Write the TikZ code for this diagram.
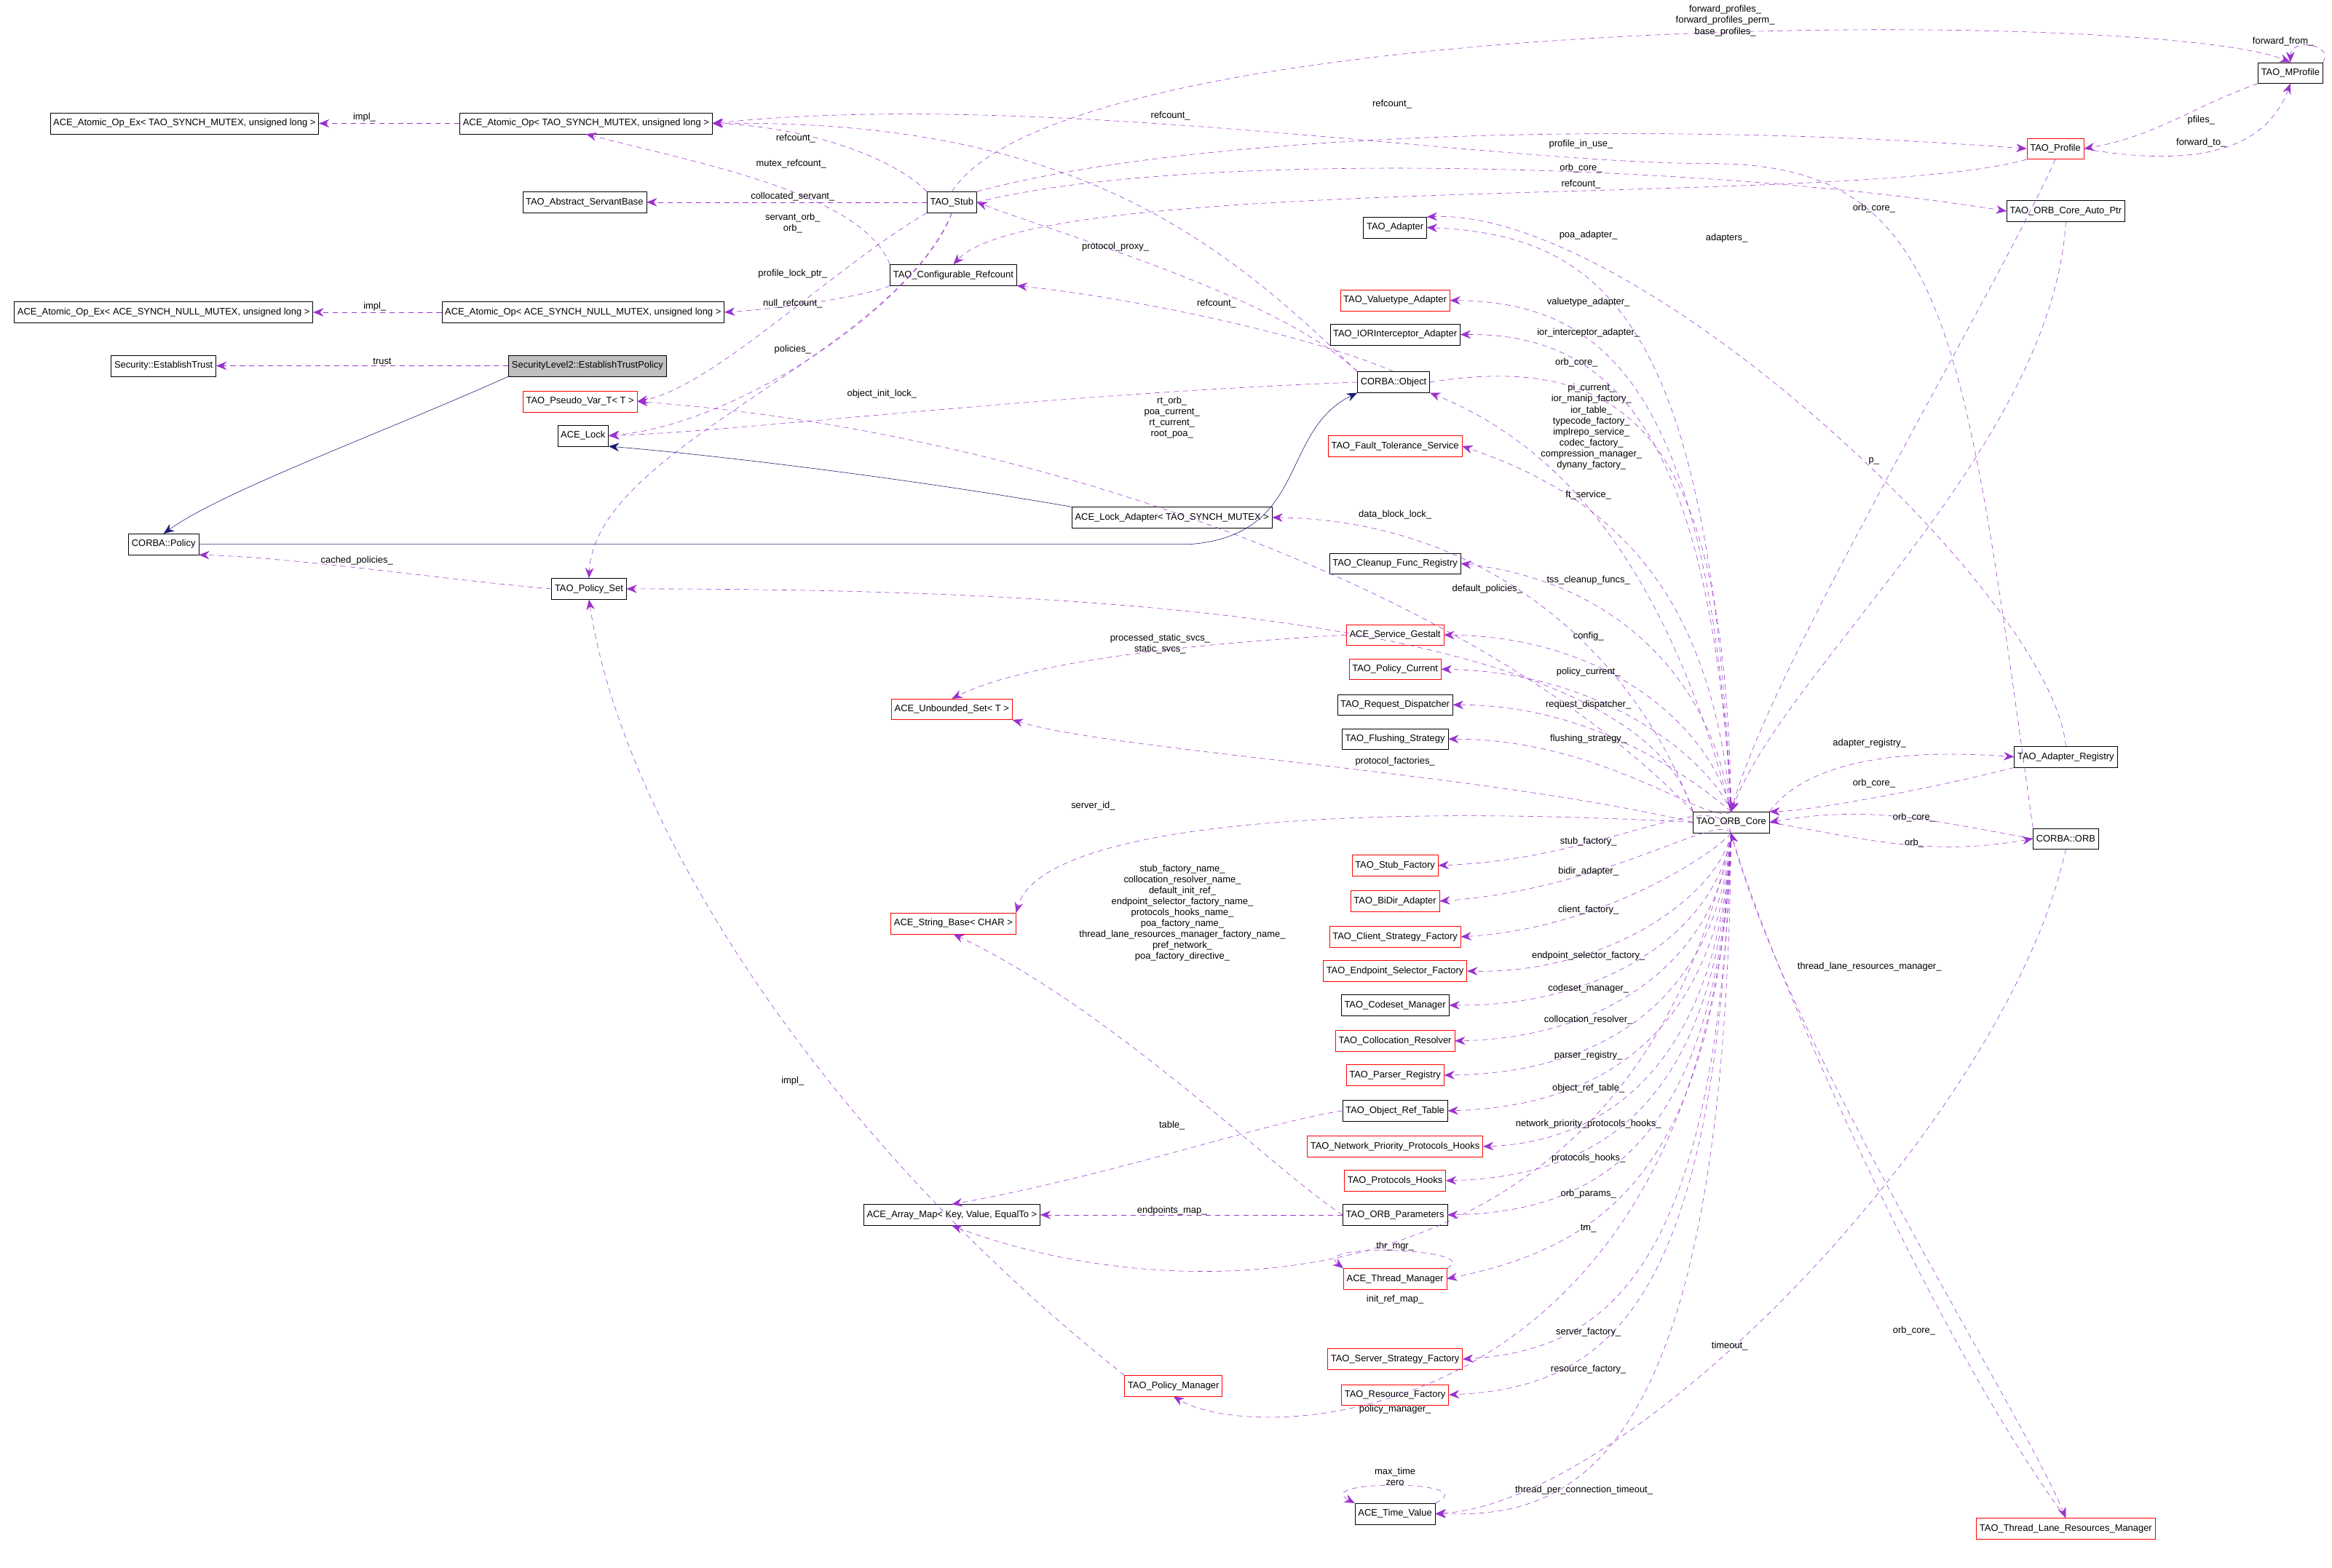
\documentclass[tikz,border=0pt]{standalone}
\usepackage{fontspec}
\setmainfont{Liberation Sans}
\usetikzlibrary{arrows.meta}
\definecolor{purp}{RGB}{154,50,205}
\definecolor{navyb}{RGB}{25,25,112}
\begin{document}
\begin{tikzpicture}[x=0.05cm,y=-0.05cm,
  every node/.style={font=\fontsize{9}{11}\selectfont},
  cls/.style={draw=black,fill=white,minimum height=0.7cm,inner xsep=3pt,inner ysep=1pt},
  rcls/.style={cls,draw=red},
  lbl/.style={inner sep=0pt,align=center,font=\fontsize{9}{10.5}\selectfont},
  use/.style={draw=purp,dash pattern=on 5pt off 4pt,-{Stealth[length=10pt,width=8pt]}},
  inh/.style={draw=navyb,-{Stealth[length=10pt,width=8pt]}}]
\useasboundingbox (0,0) rectangle (1568,1054);
% nodes
\node[cls] (aopex) at (124,83) {ACE\_Atomic\_Op\_Ex< TAO\_SYNCH\_MUTEX, unsigned long >};
\node[cls] (aop) at (394,83) {ACE\_Atomic\_Op< TAO\_SYNCH\_MUTEX, unsigned long >};
\node[cls] (absb) at (393,136) {TAO\_Abstract\_ServantBase};
\node[cls] (stub) at (640,136) {TAO\_Stub};
\node[cls] (cref) at (641,185) {TAO\_Configurable\_Refcount};
\node[cls] (aopexn) at (110,210) {ACE\_Atomic\_Op\_Ex< ACE\_SYNCH\_NULL\_MUTEX, unsigned long >};
\node[cls] (aopn) at (392,210) {ACE\_Atomic\_Op< ACE\_SYNCH\_NULL\_MUTEX, unsigned long >};
\node[cls] (etrust) at (110,246) {Security::EstablishTrust};
\node[cls,fill=black!25] (etp) at (395,246) {SecurityLevel2::EstablishTrustPolicy};
\node[rcls] (pvt) at (390,270) {TAO\_Pseudo\_Var\_T< T >};
\node[cls] (acelock) at (392,293) {ACE\_Lock};
\node[cls] (policy) at (110,366) {CORBA::Policy};
\node[cls] (pset) at (396,396) {TAO\_Policy\_Set};
\node[cls] (lad) at (788,348) {ACE\_Lock\_Adapter< TAO\_SYNCH\_MUTEX >};
\node[cls] (obj) at (937,257) {CORBA::Object};
\node[cls] (tada) at (938,153) {TAO\_Adapter};
\node[rcls] (vta) at (938,202) {TAO\_Valuetype\_Adapter};
\node[cls] (iora) at (938,225) {TAO\_IORInterceptor\_Adapter};
\node[rcls] (fts) at (938,300) {TAO\_Fault\_Tolerance\_Service};
\node[cls] (cfr) at (938,379) {TAO\_Cleanup\_Func\_Registry};
\node[rcls] (sg) at (938,427) {ACE\_Service\_Gestalt};
\node[rcls] (pc) at (938,450) {TAO\_Policy\_Current};
\node[cls] (rd) at (938,474) {TAO\_Request\_Dispatcher};
\node[cls] (fs) at (938,497) {TAO\_Flushing\_Strategy};
\node[rcls] (uset) at (640,477) {ACE\_Unbounded\_Set< T >};
\node[rcls] (strb) at (641,621) {ACE\_String\_Base< CHAR >};
\node[cls] (core) at (1164,553) {TAO\_ORB\_Core};
\node[rcls] (sf) at (938,582) {TAO\_Stub\_Factory};
\node[rcls] (bda) at (938,606) {TAO\_BiDir\_Adapter};
\node[rcls] (csf) at (938,630) {TAO\_Client\_Strategy\_Factory};
\node[rcls] (esf) at (938,653) {TAO\_Endpoint\_Selector\_Factory};
\node[cls] (cm) at (938,676) {TAO\_Codeset\_Manager};
\node[rcls] (cr) at (938,700) {TAO\_Collocation\_Resolver};
\node[rcls] (pr) at (938,723) {TAO\_Parser\_Registry};
\node[cls] (ort) at (938,747) {TAO\_Object\_Ref\_Table};
\node[rcls] (npph) at (938,771) {TAO\_Network\_Priority\_Protocols\_Hooks};
\node[rcls] (ph) at (938,794) {TAO\_Protocols\_Hooks};
\node[cls] (orbp) at (938,817) {TAO\_ORB\_Parameters};
\node[cls] (amap) at (640,817) {ACE\_Array\_Map< Key, Value, EqualTo >};
\node[rcls] (thm) at (938,860) {ACE\_Thread\_Manager};
\node[rcls] (ssf) at (938,914) {TAO\_Server\_Strategy\_Factory};
\node[rcls] (rf) at (938,938) {TAO\_Resource\_Factory};
\node[rcls] (pmgr) at (789,932) {TAO\_Policy\_Manager};
\node[cls] (tv) at (938,1018) {ACE\_Time\_Value};
\node[cls] (mprof) at (1540,49) {TAO\_MProfile};
\node[rcls] (prof) at (1382,100) {TAO\_Profile};
\node[cls] (coreap) at (1389,142) {TAO\_ORB\_Core\_Auto\_Ptr};
\node[cls] (areg) at (1389,509) {TAO\_Adapter\_Registry};
\node[cls] (orb) at (1389,564) {CORBA::ORB};
\node[rcls] (tlrm) at (1389,1028) {TAO\_Thread\_Lane\_Resources\_Manager};

% inheritance
\draw[inh] (etp.south west) .. controls (260,290) and (150,330) .. (policy.north);
\draw[inh] (lad.north west) .. controls (600,320) and (470,305) .. (acelock.south east);
\draw[inh] (policy.east) -- (800,366) .. controls (880,360) and (860,290) .. (obj.south west);

% usage edges
\draw[use] (aop) -- (aopex); \node[lbl] (l1) at (245,79) {impl\_};
\draw[use] (aopn) -- (aopexn); \node[lbl] (l2) at (252,206) {impl\_};
\draw[use] (etp) -- (etrust); \node[lbl] (l3) at (257,243) {trust};
\draw[use] (stub) -- (absb); \node[lbl] (l4) at (533,132) {collocated\_servant\_};
\draw[use] (stub.north west) .. controls (600,105) and (540,85) .. (aop.east); \node[lbl] (l5) at (535,93) {refcount\_};
\draw[use] (cref.north west) .. controls (580,130) and (470,110) .. (aop.south); \node[lbl] (l6) at (532,110) {mutex\_refcount\_};
\draw[use] (obj.north west) .. controls (820,160) and (720,80) .. (aop.east); \node[lbl] (l7) at (787,78) {refcount\_};
\draw[use] (orb.north west) .. controls (1320,220) and (1310,110) .. (1150,110) .. controls (1000,110) and (700,60) .. (aop.east); \node[lbl] (l8) at (936,70) {refcount\_};
\draw[use] (stub.south west) .. controls (560,180) and (480,260) .. (pvt.east); \node[lbl] (l9) at (533,150) {servant\_orb\_\\orb\_};
\draw[use] (stub.south) .. controls (620,200) and (500,285) .. (acelock.east); \node[lbl] (l10) at (533,184) {profile\_lock\_ptr\_};
\draw[use] (stub.south) .. controls (600,240) and (400,300) .. (pset.north); \node[lbl] (l11) at (533,235) {policies\_};
\draw[use] (cref.south west) .. controls (580,200) and (520,208) .. (aopn.east); \node[lbl] (l12) at (533,204) {null\_refcount\_};
\draw[use] (stub.north) .. controls (720,5) and (1450,5) .. (mprof.north); \node[lbl] (l13) at (1160,14) {forward\_profiles\_\\forward\_profiles\_perm\_\\base\_profiles\_};
\draw[use] (stub.north east) .. controls (800,90) and (1100,80) .. (prof.west); \node[lbl] (l14) at (1063,97) {profile\_in\_use\_};
\draw[use] (stub.east) .. controls (800,100) and (1150,110) .. (coreap.west); \node[lbl] (l15) at (1063,113) {orb\_core\_};
\draw[use] (prof.south west) .. controls (1250,140) and (700,115) .. (cref.north); \node[lbl] (l16) at (1063,124) {refcount\_};
\draw[use] (prof.south) .. controls (1340,200) and (1190,450) .. (core.north); \node[lbl] (l17) at (1260,140) {orb\_core\_};
\draw[use] (mprof.south west) to[out=-160,in=10] (prof.east); \node[lbl] (l18) at (1480,81) {pfiles\_};
\draw[use] (prof.east) to[out=-10,in=-110] (mprof.south); \node[lbl] (l19) at (1480,96) {forward\_to\_};
\draw[use] (mprof.north east) .. controls (1570,30) and (1540,25) .. (mprof.north); \node[lbl] (l20) at (1535,28) {forward\_from\_};
\draw[use] (obj.north west) .. controls (860,200) and (720,160) .. (stub.east); \node[lbl] (l21) at (750,166) {protocol\_proxy\_};
\draw[use] (obj.north) .. controls (880,225) and (760,200) .. (cref.south east); \node[lbl] (l22) at (818,204) {refcount\_};
\draw[use] (obj.west) .. controls (700,265) and (500,290) .. (acelock.east); \node[lbl] (l23) at (593,265) {object\_init\_lock\_};
\draw[use] (core.north west) .. controls (1000,400) and (700,290) .. (pvt.east); \node[lbl] (l24) at (788,281) {rt\_orb\_\\poa\_current\_\\rt\_current\_\\root\_poa\_};
\draw[use] (core.north) .. controls (1120,380) and (1050,300) .. (obj.south east); \node[lbl] (l25) at (1070,287) {pi\_current\_\\ior\_manip\_factory\_\\ior\_table\_\\typecode\_factory\_\\implrepo\_service\_\\codec\_factory\_\\compression\_manager\_\\dynany\_factory\_};
\draw[use] (obj.east) .. controls (1100,235) and (1160,300) .. (core.north); \node[lbl] (l26) at (1060,244) {orb\_core\_};
\draw[use] (core.north west) .. controls (1100,440) and (1000,350) .. (lad.east); \node[lbl] (l27) at (938,346) {data\_block\_lock\_};
\draw[use] (core.north west) .. controls (1100,410) and (700,396) .. (pset.east); \node[lbl] (l28) at (1000,396) {default\_policies\_};
\draw[use] (core.west) .. controls (1000,520) and (750,505) .. (uset.south east); \node[lbl] (l29) at (938,512) {protocol\_factories\_};
\draw[use] (core.west) .. controls (900,540) and (700,555) .. (strb.north east); \node[lbl] (l30) at (735,542) {server\_id\_};
\draw[use] (sg.west) .. controls (850,430) and (700,440) .. (uset.north); \node[lbl] (l31) at (780,433) {processed\_static\_svcs\_\\static\_svcs\_};
\draw[use] (orbp.west) .. controls (860,790) and (750,680) .. (strb.south); \node[lbl] (l32) at (795,614) {stub\_factory\_name\_\\collocation\_resolver\_name\_\\default\_init\_ref\_\\endpoint\_selector\_factory\_name\_\\protocols\_hooks\_name\_\\poa\_factory\_name\_\\thread\_lane\_resources\_manager\_factory\_name\_\\pref\_network\_\\poa\_factory\_directive\_};
\draw[use] (ort.west) .. controls (850,755) and (750,790) .. (amap.north); \node[lbl] (l33) at (788,757) {table\_};
\draw[use] (orbp) -- (amap); \node[lbl] (l34) at (788,814) {endpoints\_map\_};
\draw[use] (core.south) .. controls (1100,880) and (800,885) .. (amap.south); \node[lbl] (l35) at (938,874) {init\_ref\_map\_};
\draw[use] (core.south) .. controls (1150,960) and (850,975) .. (pmgr.south); \node[lbl] (l36) at (938,948) {policy\_manager\_};
\draw[use] (pmgr.north west) .. controls (560,770) and (420,560) .. (pset.south); \node[lbl] (l37) at (533,727) {impl\_};
\draw[use] (pset.west) .. controls (300,390) and (200,375) .. (policy.south east); \node[lbl] (l38) at (240,377) {cached\_policies\_};
\draw[use] (thm.north east) .. controls (1000,840) and (880,835) .. (thm.north west); \node[lbl] (l39) at (938,838) {thr\_mgr\_};
\draw[use] (tv.north east) .. controls (1000,995) and (880,995) .. (tv.north west); \node[lbl] (l40) at (938,993) {max\_time\\zero};
\draw[use] (core.south) .. controls (1160,1000) and (1050,1020) .. (tv.east); \node[lbl] (l41) at (1065,1002) {thread\_per\_connection\_timeout\_};
\draw[use] (orb.south) .. controls (1350,750) and (1100,1010) .. (tv.east); \node[lbl] (l42) at (1163,905) {timeout\_};
\draw[use] (tlrm.north) .. controls (1300,900) and (1190,650) .. (core.south); \node[lbl] (l43) at (1287,895) {orb\_core\_};
\draw[use] (core.south) .. controls (1200,700) and (1360,950) .. (tlrm.north); \node[lbl] (l44) at (1257,650) {thread\_lane\_resources\_manager\_};
\draw[use] (core.north east) .. controls (1220,505) and (1300,505) .. (areg.west); \node[lbl] (l45) at (1257,500) {adapter\_registry\_};
\draw[use] (areg.south west) .. controls (1300,530) and (1220,545) .. (core.north east); \node[lbl] (l46) at (1260,527) {orb\_core\_};
\draw[use] (areg.north) .. controls (1380,400) and (1100,140) .. (tada.north east); \node[lbl] (l47) at (1161,160) {adapters\_};
\draw[use] (orb.west) to[out=170,in=10] (core.east); \node[lbl] (l48) at (1287,550) {orb\_core\_};
\draw[use] (core.east) to[out=-10,in=190] (orb.west); \node[lbl] (l49) at (1287,567) {orb\_};
\draw[use] (coreap.south) .. controls (1380,300) and (1200,450) .. (core.north); \node[lbl] (l50) at (1260,310) {p\_};
% ORB_Core members
\foreach \t/\l/\ly in {tada/poa\_adapter\_/158, vta/valuetype\_adapter\_/203, iora/ior\_interceptor\_adapter\_/224, fts/ft\_service\_/333, cfr/tss\_cleanup\_funcs\_/390, sg/config\_/428, pc/policy\_current\_/452, rd/request\_dispatcher\_/474, fs/flushing\_strategy\_/497}{
  \draw[use] (core.north) .. controls (1150,{\ly+60}) and (1080,\ly) .. (\t.east);
  \node[lbl] (lb\t) at (1068,\ly) {\l};
}
\foreach \t/\l/\ly in {sf/stub\_factory\_/566, bda/bidir\_adapter\_/586, csf/client\_factory\_/612, esf/endpoint\_selector\_factory\_/643, cm/codeset\_manager\_/665, cr/collocation\_resolver\_/686, pr/parser\_registry\_/710, ort/object\_ref\_table\_/732, npph/network\_priority\_protocols\_hooks\_/756, ph/protocols\_hooks\_/779, orbp/orb\_params\_/803, thm/tm\_/826, ssf/server\_factory\_/896, rf/resource\_factory\_/921}{
  \draw[use] (core.south) .. controls (1155,{\ly-40}) and (1080,{\ly+12}) .. (\t.east);
  \node[lbl] (lb\t) at (1068,\ly) {\l};
}
\end{tikzpicture}
\end{document}
